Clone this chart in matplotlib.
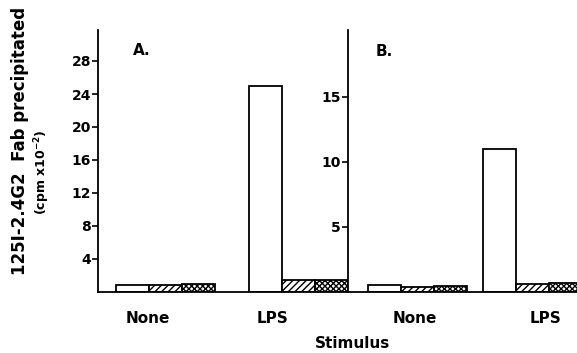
import matplotlib
matplotlib.use("Agg")
import matplotlib.pyplot as plt

# ── Data ─────────────────────────────────────────────────────────────────────
stimuli = ["None", "LPS"]
hatches = ["", "/////", "xxxxxx"]

# panel A, cpm x 10^-2
a_none = [0.8, 0.8, 0.95]
a_lps = [25.0, 1.5, 1.5]
a_ticks = [4, 8, 12, 16, 20, 24, 28]

# panel B
b_none = [0.55, 0.35, 0.5]
b_lps = [11.0, 0.6, 0.7]
b_ticks = [5, 10, 15]

plt.rcParams["font.family"] = "DejaVu Sans"
plt.rcParams["font.weight"] = "bold"
plt.rcParams["hatch.linewidth"] = 1.0

fig = plt.figure(figsize=(5.77, 3.53), dpi=100)
ax1 = fig.add_axes([98 / 577, 1 - 292 / 353, 250 / 577, 262 / 353])
ax2 = fig.add_axes([348 / 577, 1 - 292 / 353, 229 / 577, 262 / 353])


def draw_group(ax, center, values):
    for i, (v, h) in enumerate(zip(values, hatches)):
        ax.bar(center + (i - 1), v, width=1.0, facecolor="white",
               edgecolor="black", hatch=h, linewidth=1.3)


# panel A
draw_group(ax1, 2.05, a_none)
draw_group(ax1, 6.08, a_lps)
ax1.set_xlim(0, 250 / 33)
ax1.set_ylim(0, 262 / 8.25)
ax1.set_yticks(a_ticks)
ax1.set_xticks([1.52, 5.3])
ax1.set_xticklabels(stimuli)

# panel B
draw_group(ax2, 2.1, b_none)
draw_group(ax2, 5.6, b_lps)
ax2.set_xlim(0, 229 / 33)
ax2.set_ylim(0, 262 / 13)
ax2.set_yticks(b_ticks)
ax2.set_xticks([2.03, 5.97])
ax2.set_xticklabels(stimuli)

for ax in (ax1, ax2):
    for s in ("top", "right"):
        ax.spines[s].set_visible(False)
    for s in ("left", "bottom"):
        ax.spines[s].set_linewidth(1.3)
    ax.tick_params(axis="y", direction="out", length=4, width=1.2,
                   labelsize=10, pad=1)
    ax.tick_params(axis="x", length=0, labelsize=11, pad=14)

ax1.text(0.14, 0.95, "A.", transform=ax1.transAxes, fontsize=11,
         fontweight="bold", va="top")
ax2.text(0.12, 0.945, "B.", transform=ax2.transAxes, fontsize=11,
         fontweight="bold", va="top")

fig.text(20 / 577, 1 - 141 / 353, "125I-2.4G2  Fab precipitated",
         rotation=90, ha="center", va="center", fontsize=12)
fig.text(42 / 577, 1 - 172 / 353, r"(cpm x$10^{-2}$)",
         rotation=90, ha="center", va="center", fontsize=9)
fig.text(352 / 577, 1 - 343 / 353, "Stimulus", ha="center", va="center",
         fontsize=11)

fig.savefig("out.png", dpi=100)
